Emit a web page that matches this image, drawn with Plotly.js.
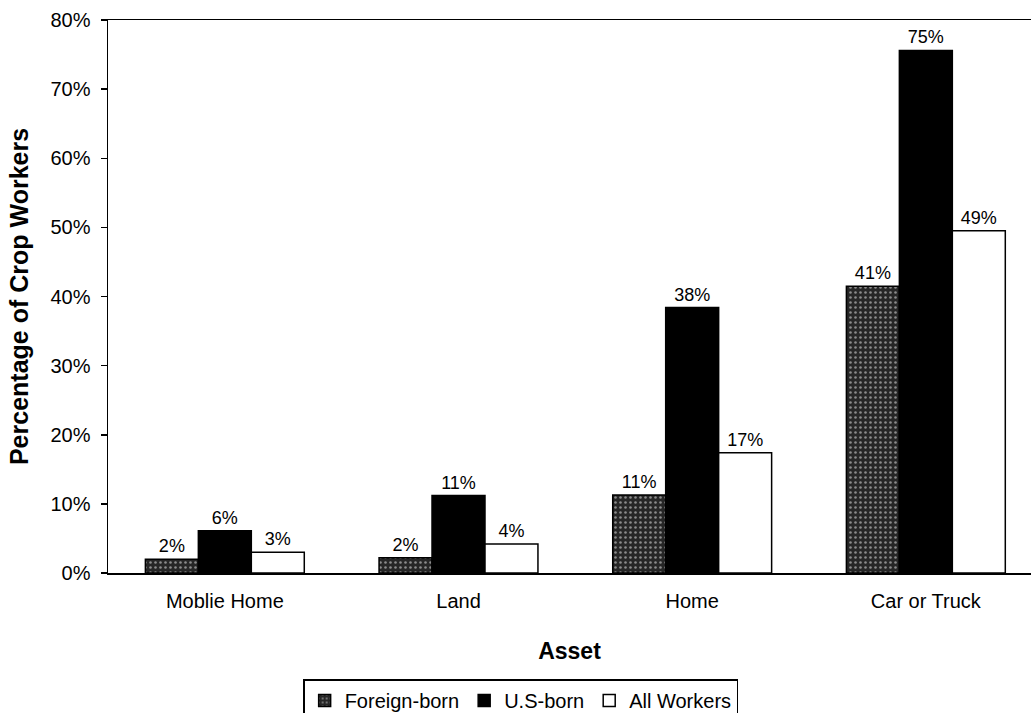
<!DOCTYPE html>
<html>
<head>
<meta charset="utf-8">
<script src="https://cdn.plot.ly/plotly-3.0.1.min.js"></script>
<style>html,body{margin:0;padding:0;background:#fff;}#chart{width:1031px;height:713px;}</style>
</head>
<body>
<div id="chart"></div>
<script>
const categories = ['Moblie Home', 'Land', 'Home', 'Car or Truck'];
const foreignBorn = [2.0, 2.2, 11.3, 41.5];
const usBorn = [6.1, 11.2, 38.4, 75.6];
const allWorkers = [3.0, 4.2, 17.4, 49.5];
const foreignLabels = ['2%', '2%', '11%', '41%'];
const usLabels = ['6%', '11%', '38%', '75%'];
const allLabels = ['3%', '4%', '17%', '49%'];
const yTicks = [0, 10, 20, 30, 40, 50, 60, 70, 80];
const yTickText = ['0%', '10%', '20%', '30%', '40%', '50%', '60%', '70%', '80%'];

const FONT = 'Liberation Sans, Arial, Helvetica, sans-serif';
const labelFont = {family: FONT, size: 18, color: '#000'};

const traces = [
  {
    type: 'bar', name: 'Foreign-born', x: categories, y: foreignBorn,
    text: foreignLabels, textposition: 'outside', textfont: labelFont, cliponaxis: false,
    marker: {color: '#262626', line: {color: '#000', width: 1.5},
             pattern: {shape: '.', bgcolor: '#262626', fgcolor: '#8c8c8c', size: 5, solidity: 0.2}}
  },
  {
    type: 'bar', name: 'U.S-born', x: categories, y: usBorn,
    text: usLabels, textposition: 'outside', textfont: labelFont, cliponaxis: false,
    marker: {color: '#000', line: {color: '#000', width: 1.5}}
  },
  {
    type: 'bar', name: 'All Workers', x: categories, y: allWorkers,
    text: allLabels, textposition: 'outside', textfont: labelFont, cliponaxis: false,
    marker: {color: '#fff', line: {color: '#000', width: 1.5}}
  }
];

const layout = {
  width: 1031, height: 713,
  margin: {l: 108, r: 0, t: 20, b: 140},
  paper_bgcolor: '#fff', plot_bgcolor: '#fff',
  font: {family: FONT, color: '#000'},
  barmode: 'group', bargap: 0.32, bargroupgap: 0,
  xaxis: {
    range: [-0.5, 3.45], showline: true, linecolor: '#000', linewidth: 1.5, mirror: true,
    ticks: '', showgrid: false, zeroline: false, ticklabelstandoff: 9,
    tickfont: {family: FONT, size: 20, color: '#000'},
    title: {text: 'Asset', font: {family: FONT, size: 23, color: '#000', weight: 'bold'}, standoff: 32}
  },
  yaxis: {
    range: [0, 80], tickvals: yTicks, ticktext: yTickText,
    showline: true, linecolor: '#000', linewidth: 1.5,
    ticks: 'outside', ticklen: 6, tickcolor: '#000', tickwidth: 1.5,
    showgrid: false, zeroline: false, ticklabelstandoff: 6,
    tickfont: {family: FONT, size: 20, color: '#000'},
    title: {text: 'Percentage of Crop Workers', font: {family: FONT, size: 25, color: '#000', weight: 'bold'}, standoff: 14}
  },
  legend: {
    orientation: 'h', xref: 'container', yref: 'container',
    x: 0.505, xanchor: 'center', y: 0.047, yanchor: 'top',
    bordercolor: '#000', borderwidth: 1.5, bgcolor: '#fff',
    font: {family: FONT, size: 20, color: '#000'},
    itemwidth: 30, tracegroupgap: 0
  },
  showlegend: true
};

Plotly.newPlot('chart', traces, layout, {displayModeBar: false, staticPlot: true});
</script>
</body>
</html>
